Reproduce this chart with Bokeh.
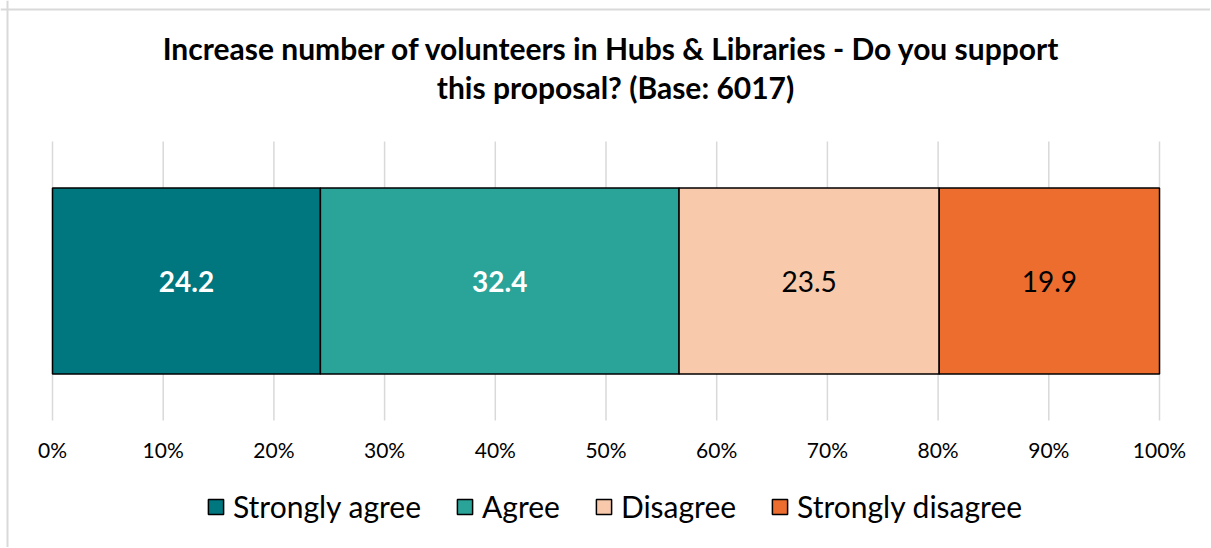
from bokeh.plotting import figure
from bokeh.models import ColumnDataSource, Legend, LegendItem, Label, Range1d, Span
from bokeh.core.properties import value
from bokeh.embed import file_html
from bokeh.resources import INLINE

# ---- data ----
categories = ["Strongly agree", "Agree", "Disagree", "Strongly disagree"]
values = [24.2, 32.4, 23.5, 19.9]
colors = ["#00767E", "#2AA398", "#F8C9AA", "#EC6D2D"]
label_colors = ["white", "white", "black", "black"]
label_styles = ["bold", "bold", "normal", "normal"]
tick_values = [0, 10, 20, 30, 40, 50, 60, 70, 80, 90, 100]
tick_labels = ["0%", "10%", "20%", "30%", "40%", "50%", "60%", "70%", "80%", "90%", "100%"]
title_line1 = "Increase number of volunteers in Hubs & Libraries -  Do you support"
title_line2 = "this proposal? (Base: 6017)"

FONT = "Lato"

# ---- layout (pixels inside the canvas) ----
W, H = 1210, 547
PX_L, PX_R = 52, 1159        # where 0% and 100% fall
PX_TOP, PX_BOT = 141, 420    # top / bottom of the gridline area


def px_x(px):
    return (px - PX_L) * 100.0 / (PX_R - PX_L)


def px_y(py):
    return (PX_BOT - py) / float(PX_BOT - PX_TOP)


lefts, rights = [], []
acc = 0.0
for v in values:
    lefts.append(acc)
    acc += v
    rights.append(acc)
mids = [(l + r) / 2 for l, r in zip(lefts, rights)]

p = figure(width=W, height=H, output_backend="svg", toolbar_location=None,
           x_range=Range1d(px_x(0), px_x(W)), y_range=Range1d(px_y(H), px_y(0)),
           min_border=0, x_axis_location=None, y_axis_location=None)
p.outline_line_color = None
p.background_fill_color = "white"
p.border_fill_color = "white"
p.xgrid.visible = False
p.ygrid.visible = False

# light chart-area border (left / top edges)
p.add_layout(Span(location=px_x(7), dimension="height", line_color="#D9D9D9", line_width=2))
p.add_layout(Span(location=px_y(9), dimension="width", line_color="#D9D9D9", line_width=2))

# vertical gridlines at the tick positions
p.segment(x0=tick_values, x1=tick_values, y0=[0] * len(tick_values), y1=[1] * len(tick_values),
          line_color="#D9D9D9", line_width=1.5)

# tick labels
p.text(x=tick_values, y=[0] * len(tick_values), text=tick_labels, y_offset=29,
       text_align="center", text_baseline="middle", text_color="black",
       text_font=value(FONT), text_font_size="21px")

# title
for txt, ty in ((title_line1, 47), (title_line2, 86)):
    p.add_layout(Label(x=615, y=H - ty, x_units="screen", y_units="screen", text=txt,
                       text_font=FONT, text_font_size="30px", text_font_style="bold",
                       text_color="black", text_align="center", text_baseline="middle"))

renderers = []
for i, cat in enumerate(categories):
    src = ColumnDataSource(dict(left=[lefts[i]], right=[rights[i]], y=[0.5]))
    r = p.hbar(y="y", left="left", right="right", height=0.667, source=src,
               fill_color=colors[i], line_color="black", line_width=1.5)
    renderers.append(r)

lab_src = ColumnDataSource(dict(x=mids, y=[0.5] * len(values),
                                text=[f"{v:.1f}" for v in values],
                                color=label_colors, style=label_styles))
p.text(x="x", y="y", text="text", source=lab_src, text_color="color",
       text_font_style="style", text_align="center", text_baseline="middle",
       text_font=value(FONT), text_font_size="28px")

legend = Legend(items=[LegendItem(label=c, renderers=[r]) for c, r in zip(categories, renderers)],
                orientation="horizontal", location=(206, H - 524),
                label_text_font=FONT, label_text_font_size="30px", label_text_color="black",
                glyph_width=19, glyph_height=19, label_standoff=8, spacing=34,
                padding=0, margin=0, border_line_color=None, background_fill_alpha=0)
p.add_layout(legend, "center")

open("out.html", "w").write(file_html(p, INLINE))
